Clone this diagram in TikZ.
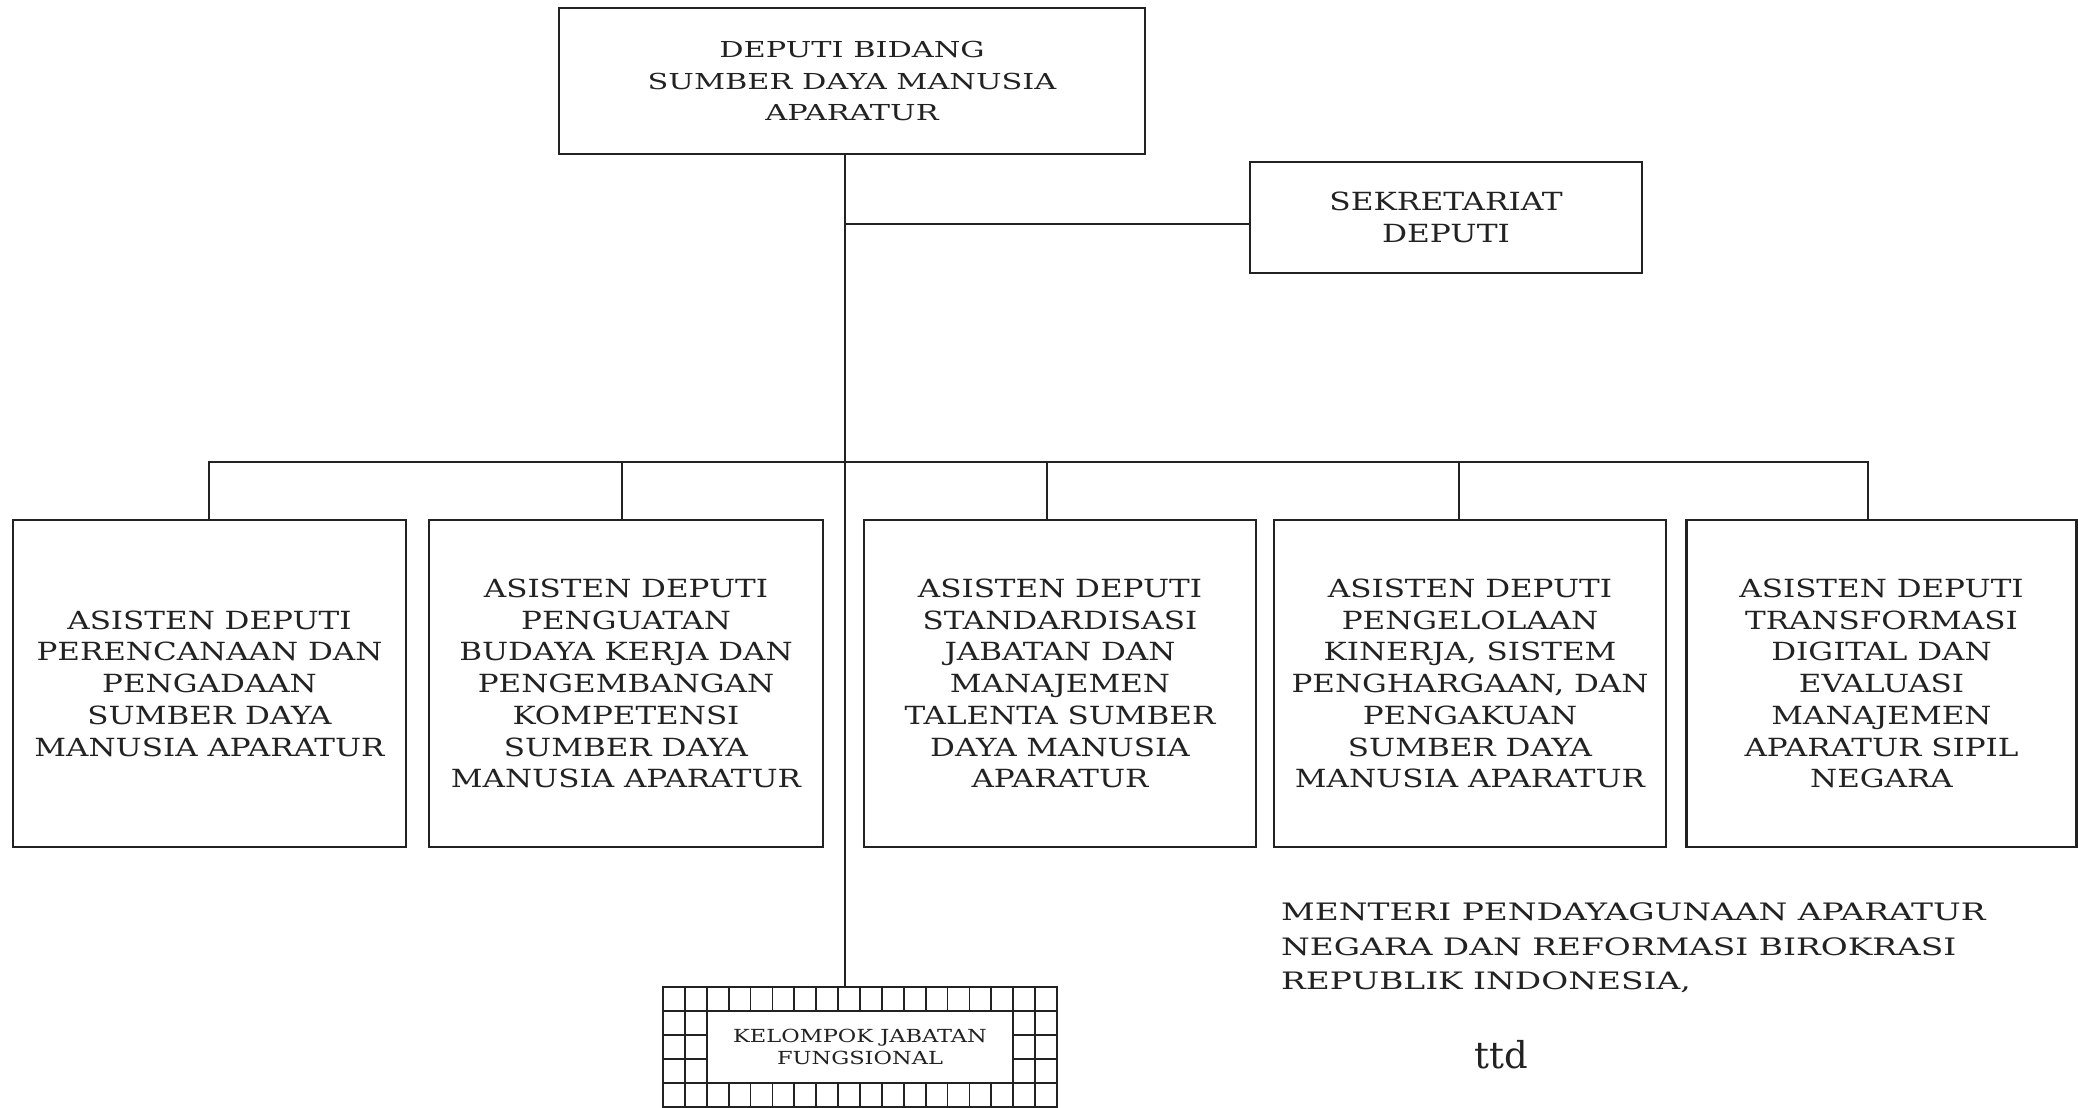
\documentclass[tikz,border=0pt]{standalone}
\usepackage{fontspec}
\setmainfont{DejaVu Serif}
\newfontfamily\boxfont{DejaVu Serif}[FakeStretch=1.24]
\newfontfamily\topfont{DejaVu Serif}[FakeStretch=1.38]
\newfontfamily\sekfont{DejaVu Serif}[FakeStretch=1.25]
\newfontfamily\kjffont{DejaVu Serif}[FakeStretch=1.25]
\newfontfamily\sigfont{DejaVu Serif}[FakeStretch=1.37]
\definecolor{ink}{HTML}{222222}
\tikzset{
  orgbox/.style={draw=ink, line width=2.2pt, rectangle, inner sep=0pt, align=center,
    text=ink, font=\boxfont\fontsize{25}{31.7}\selectfont},
  link/.style={draw=ink, line width=2pt},
  gridline/.style={draw=ink, line width=1.8pt},
}
\begin{document}
\begin{tikzpicture}[x=1pt,y=-1pt]
\useasboundingbox (0,0) rectangle (2078,1108);
\fill[white] (0,0) rectangle (2078,1108);

% top box
\node[orgbox, minimum width=586pt, minimum height=146pt, font=\topfont\fontsize{22}{31.5}\selectfont] (top) at (852,81)
  {DEPUTI BIDANG\\SUMBER DAYA MANUSIA\\APARATUR};
% sekretariat
\node[orgbox, minimum width=392pt, minimum height=111pt, font=\sekfont\fontsize{25}{32}\selectfont] (sek) at (1446,217.5)
  {SEKRETARIAT\\DEPUTI};

% five assistant boxes
\node[orgbox, minimum width=393pt, minimum height=327pt] (b1) at (209.5,683.5)
  {ASISTEN DEPUTI\\PERENCANAAN DAN\\PENGADAAN\\SUMBER DAYA\\MANUSIA APARATUR};
\node[orgbox, minimum width=394pt, minimum height=327pt] (b2) at (626,683.5)
  {ASISTEN DEPUTI\\PENGUATAN\\BUDAYA KERJA DAN\\PENGEMBANGAN\\KOMPETENSI\\SUMBER DAYA\\MANUSIA APARATUR};
\node[orgbox, minimum width=392pt, minimum height=327pt] (b3) at (1060,683.5)
  {ASISTEN DEPUTI\\STANDARDISASI\\JABATAN DAN\\MANAJEMEN\\TALENTA SUMBER\\DAYA MANUSIA\\APARATUR};
\node[orgbox, minimum width=392pt, minimum height=327pt] (b4) at (1470,683.5)
  {ASISTEN DEPUTI\\PENGELOLAAN\\KINERJA, SISTEM\\PENGHARGAAN, DAN\\PENGAKUAN\\SUMBER DAYA\\MANUSIA APARATUR};
\node[orgbox, minimum width=390pt, minimum height=327pt] (b5) at (1881.5,683.5)
  {ASISTEN DEPUTI\\TRANSFORMASI\\DIGITAL DAN\\EVALUASI\\MANAJEMEN\\APARATUR SIPIL\\NEGARA};

% kelompok jabatan fungsional (grid frame)
\node[draw=ink, line width=1.8pt, rectangle, inner sep=0pt, minimum width=394pt, minimum height=120pt] (kjf) at (860,1047) {};
\foreach \i in {1,...,17} {
  \draw[gridline] ({663+\i*21.89},987) -- ({663+\i*21.89},1011);
  \draw[gridline] ({663+\i*21.89},1083) -- ({663+\i*21.89},1107);
}
\draw[gridline] (663,1011) -- (1057,1011);
\draw[gridline] (663,1083) -- (1057,1083);
\foreach \j in {1035,1059} {
  \draw[gridline] (663,\j) -- (707,\j);
  \draw[gridline] (1013,\j) -- (1057,\j);
}
\foreach \i in {1,2} {
  \draw[gridline] ({663+\i*21.89},1011) -- ({663+\i*21.89},1083);
  \draw[gridline] ({663+(15+\i)*21.89},1011) -- ({663+(15+\i)*21.89},1083);
}
\node[align=center, text=ink, font=\kjffont\fontsize{18}{22}\selectfont] (kjft) at (860,1047)
  {KELOMPOK JABATAN\\FUNGSIONAL};

% connectors
\coordinate (spine) at (845,0);
\coordinate (busy) at (0,462);
\coordinate (seky) at (0,224);
\draw[link] (spine |- top.south) -- (spine |- kjf.north);
\draw[link] (spine |- seky) -- (sek.west |- seky);
\draw[link] ([xshift=-1pt]b1.north) -- ([xshift=-1pt]b1.north |- busy)
  -- ([xshift=-14pt]b5.north |- busy) -- ([xshift=-14pt]b5.north);
\draw[link] ([xshift=-4pt]b2.north) -- ([xshift=-4pt]b2.north |- busy);
\draw[link] ([xshift=-13pt]b3.north) -- ([xshift=-13pt]b3.north |- busy);
\draw[link] ([xshift=-11pt]b4.north) -- ([xshift=-11pt]b4.north |- busy);

% signature block
\node[anchor=west, align=left, inner sep=0pt, text=ink, font=\sigfont\fontsize{24}{34.5}\selectfont] (sig) at (1281,948)
  {MENTERI PENDAYAGUNAAN APARATUR\\NEGARA DAN REFORMASI BIROKRASI\\REPUBLIK INDONESIA,};
\node[text=ink, font=\rmfamily\fontsize{37}{42}\selectfont, inner sep=0pt] (ttd) at (1501,1055) {ttd};
\end{tikzpicture}
\end{document}
